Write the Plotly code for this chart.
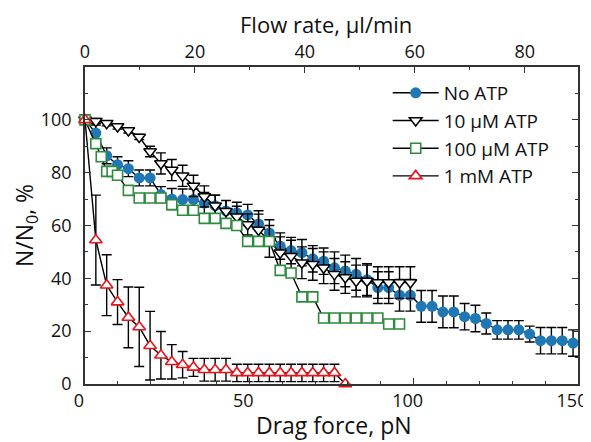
import plotly.graph_objects as go

# ---- data ----
no_atp_x = [0, 3.3, 6.6, 9.9, 13.2, 16.5, 19.8, 23.1, 26.4, 29.7, 33.0, 36.3, 39.6, 42.9, 46.2,
            49.5, 52.8, 56.1, 59.4, 62.7, 66.0, 69.3, 72.6, 75.9, 79.2, 82.5, 85.8, 89.1, 92.4,
            95.7, 99.0, 102.3, 105.6, 108.9, 112.2, 115.5, 118.8, 122.1, 125.4, 128.7, 132.0,
            135.3, 138.6, 141.9, 145.2, 148.5]
no_atp_y = [100, 95, 86.4, 83, 81.5, 78, 78, 71.7, 70, 69.8, 69.8, 68.5, 67.5, 65.5, 64.8,
            64, 60.6, 57.2, 52.2, 50.5, 49.7, 47.4, 46.5, 44, 42.8, 41.5, 39.5, 36.5, 36.5,
            33.6, 33.6, 29.4, 29.4, 27.3, 27.3, 25.5, 24.8, 22.9, 20.5, 20.5, 20.5,
            18.9, 16.4, 16.4, 16.4, 15.5]
no_atp_err = [0, 3, 3, 3, 3, 3, 3, 3, 4, 4, 4, 4, 4, 4, 4,
              4, 5, 5, 5, 5, 5, 5, 5, 6, 6, 6, 6, 6, 6,
              6, 6, 6, 6, 6, 6, 5, 5, 4, 3.5, 3.5, 3.5,
              3, 5, 5, 5, 5]

atp10_x = [0, 3.3, 6.6, 9.9, 13.2, 16.5, 19.8, 23.1, 26.4, 29.7, 33.0, 36.3, 39.6, 42.9, 46.2,
           49.5, 52.8, 56.1, 59.4, 62.7, 66.0, 69.3, 72.6, 75.9, 79.2, 82.5, 85.8, 89.1, 92.4,
           95.7, 99.0]
atp10_y = [100, 99.5, 98.7, 97.5, 96, 93.5, 88, 83.5, 81, 78.8, 75, 71, 67.5, 65.4, 63.3,
           60.4, 58.3, 54, 49.7, 48.4, 45.9, 45.3, 44, 41.5, 40.3, 39, 39, 38.4, 38.4,
           38.4, 38.4]
atp10_err = [0, 1, 1, 1, 1, 1, 2, 4, 4, 4, 4, 4, 4, 4, 4,
             4, 6, 6, 6, 6, 6, 6, 6, 6, 6, 6, 6, 6, 6,
             6, 6]

atp100_x = [0, 3.3, 4.95, 6.6, 8.25, 9.9, 13.2, 16.5, 19.8, 23.1, 26.4, 29.7, 33.0, 36.3,
            39.6, 42.9, 46.2, 49.5, 52.8, 56.1, 59.4, 62.7, 66.0, 69.3, 72.6, 75.9, 79.2,
            82.5, 85.8, 89.1, 92.4, 95.7]
atp100_y = [100, 91, 86, 80.5, 80.5, 79, 73.3, 70.4, 70.4, 70.4, 67.9, 65.8, 65.8, 62.7,
            62.7, 60.8, 60, 54, 54, 54, 43, 42, 33, 33, 25, 25, 25,
            25, 25, 25, 22.7, 22.7]

mm1_x = [0, 3.3, 6.6, 9.9, 13.2, 16.5, 19.8, 23.1, 26.4, 29.7, 33.0, 36.3, 39.6, 42.9,
         46.2, 49.5, 52.8, 56.1, 59.4, 62.7, 66.0, 69.3, 72.6, 75.9, 79.2]
mm1_y = [100, 54.5, 37.4, 31, 25.2, 21.6, 14.5, 10.9, 8.4, 7.3, 6.3, 5.4, 5.4, 5.4,
         4.2, 4.2, 4.2, 4.2, 4.2, 4.2, 4.2, 4.2, 4.2, 4.2, 0]
mm1_err = [0, 17, 11.5, 8.5, 11.5, 15, 13, 9, 6.5, 5, 3.4, 4.3, 4.3, 4.3,
           3.3, 3.3, 3.3, 3.3, 3.3, 3.3, 3.3, 3.3, 3.3, 3.3, 0]

series_names = ["No ATP", "10 \u03bcM ATP", "100 \u03bcM ATP", "1 mM ATP"]

x_ticks = [0, 50, 100, 150]
y_ticks = [0, 20, 40, 60, 80, 100]
flow_ticks = [0, 20, 40, 60, 80]

FONT = "Open Sans"
AX = "#333333"

fig = go.Figure()

line_style = dict(color="black", width=1.4)
err_style = dict(type="data", color="black", thickness=1.4, width=5, visible=True)

fig.add_trace(go.Scatter(
    x=no_atp_x, y=no_atp_y, name=series_names[0], mode="lines+markers",
    line=line_style, legendgroup="a",
    marker=dict(symbol="circle", size=11, color="#1f77b4", line=dict(width=0)),
    error_y=dict(array=no_atp_err, **err_style), cliponaxis=False))

fig.add_trace(go.Scatter(
    x=atp10_x, y=atp10_y, name=series_names[1], mode="lines+markers",
    line=line_style, legendgroup="b",
    marker=dict(symbol="triangle-down", size=11, color="white", line=dict(color="black", width=1.5)),
    error_y=dict(array=atp10_err, **err_style), cliponaxis=False))

fig.add_trace(go.Scatter(
    x=atp100_x, y=atp100_y, name=series_names[2], mode="lines+markers",
    line=line_style, legendgroup="c",
    marker=dict(symbol="square", size=10, color="white", line=dict(color="#2e8b3e", width=1.6)),
    cliponaxis=False))

fig.add_trace(go.Scatter(
    x=mm1_x, y=mm1_y, name=series_names[3], mode="lines+markers",
    line=line_style, legendgroup="d",
    marker=dict(symbol="triangle-up", size=11, color="white", line=dict(color="#e8141c", width=1.6)),
    error_y=dict(array=mm1_err, **err_style), cliponaxis=False))

# invisible trace to anchor the top axis
fig.add_trace(go.Scatter(x=[0, 89.7], y=[None, None], xaxis="x2", mode="markers",
                         showlegend=False, hoverinfo="skip"))

minor = dict(dtick=10, ticks="inside", ticklen=3.5, tickwidth=1.2, tickcolor=AX, showgrid=False)

# the page adds an 8 px body margin, so the figure is 8 px smaller than the window
fig.update_layout(
    width=583, height=434,
    margin=dict(l=77, r=13, t=59, b=58),
    paper_bgcolor="white", plot_bgcolor="white",
    font=dict(family=FONT, size=18, color="#111111"),
    showlegend=True,
    legend=dict(x=0.614, y=0.978, xanchor="left", yanchor="top",
                bgcolor="rgba(0,0,0,0)", font=dict(size=19, family=FONT),
                tracegroupgap=0, itemwidth=46),
    xaxis=dict(range=[0, 150], tickvals=x_ticks, ticks="inside", ticklen=6, tickwidth=1.3,
               tickcolor=AX, showline=True, linecolor=AX, linewidth=1.5, showgrid=False,
               zeroline=False, minor=minor, automargin=False, ticklabeloverflow="allow",
               tickfont=dict(size=18), ticklabelstandoff=0, ticklabelshift=-6),
    xaxis2=dict(range=[0, 89.7], overlaying="x", side="top", anchor="y",
                tickvals=flow_ticks, ticks="inside", ticklen=6, tickwidth=1.3, tickcolor=AX,
                showline=True, linecolor=AX, linewidth=1.5, showgrid=False, zeroline=False,
                minor=minor, automargin=False, ticklabeloverflow="allow",
                tickfont=dict(size=18), ticklabelstandoff=0),
    yaxis=dict(range=[0, 120], tickvals=y_ticks, ticks="inside", ticklen=6, tickwidth=1.3,
               tickcolor=AX, showline=True, linecolor=AX, linewidth=1.5, mirror="ticks",
               showgrid=False, zeroline=False, minor=minor, automargin=False,
               title=dict(text="N/N<sub>0</sub>, %", font=dict(size=23), standoff=12),
               tickfont=dict(size=18), ticklabelstandoff=8),
    annotations=[
        dict(text="Drag force, pN", xref="paper", yref="paper", x=0.505, y=-0.128,
             xanchor="center", yanchor="middle", showarrow=False, font=dict(size=23)),
        dict(text="Flow rate, \u03bcl/min", xref="paper", yref="paper", x=0.489, y=1.135,
             xanchor="center", yanchor="middle", showarrow=False, font=dict(size=22)),
    ],
)

fig.write_html("out.html")
